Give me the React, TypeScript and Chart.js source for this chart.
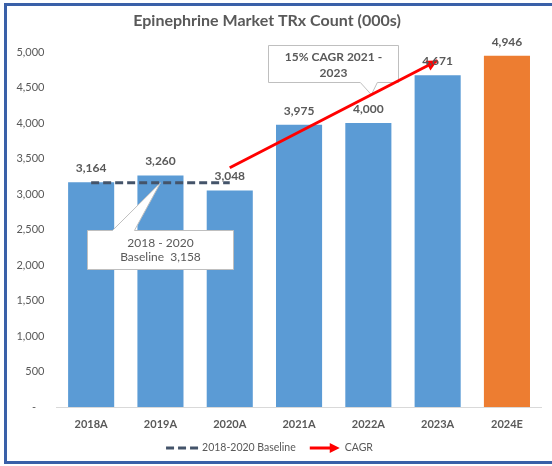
import React, { useEffect, useRef } from 'react';
import { Chart, registerables } from 'chart.js';

Chart.register(...registerables);

const FONT = 'Lato, "Open Sans", "DejaVu Sans", sans-serif';
const TEXT_COLOR = '#595959';

const titleText = 'Epinephrine Market TRx Count (000s)';
const categories = ['2018A', '2019A', '2020A', '2021A', '2022A', '2023A', '2024E'];
const trxValues = [3164, 3260, 3048, 3975, 4000, 4671, 4946];
const barColors = ['#5B9BD5', '#5B9BD5', '#5B9BD5', '#5B9BD5', '#5B9BD5', '#5B9BD5', '#ED7D31'];
const baselineValues: (number | null)[] = [3158, 3158, 3158, null, null, null, null];
const cagrValues: (number | null)[] = [null, null, 3370, null, null, 4880, null];
const yMin = 0;
const yMax = 5000;
const yStep = 500;
const baselineLabel = '2018-2020 Baseline';
const cagrLabel = 'CAGR';
const baselineCalloutLines = ['2018 - 2020', 'Baseline  3,158'];
const cagrCalloutLines = ['15% CAGR 2021 -', '2023'];

const BASELINE_COLOR = '#44546A';
const CAGR_COLOR = '#FF0000';

function fmt(v: number) {
  return v.toLocaleString('en-US');
}

function drawCallout(
  ctx: CanvasRenderingContext2D,
  left: number, top: number, right: number, bottom: number,
  b1: number, b2: number, tipX: number, tipY: number, side: 'top' | 'bottom'
) {
  ctx.save();
  ctx.beginPath();
  if (side === 'top') {
    ctx.moveTo(left, top);
    ctx.lineTo(b1, top);
    ctx.lineTo(tipX, tipY);
    ctx.lineTo(b2, top);
    ctx.lineTo(right, top);
    ctx.lineTo(right, bottom);
    ctx.lineTo(left, bottom);
  } else {
    ctx.moveTo(left, top);
    ctx.lineTo(right, top);
    ctx.lineTo(right, bottom);
    ctx.lineTo(b2, bottom);
    ctx.lineTo(tipX, tipY);
    ctx.lineTo(b1, bottom);
    ctx.lineTo(left, bottom);
  }
  ctx.closePath();
  ctx.fillStyle = '#FFFFFF';
  ctx.fill();
  ctx.strokeStyle = '#BFBFBF';
  ctx.lineWidth = 1;
  ctx.stroke();
  ctx.restore();
}

function drawArrowHead(ctx: CanvasRenderingContext2D, x0: number, y0: number, x1: number, y1: number, len: number, half: number, color: string) {
  const ang = Math.atan2(y1 - y0, x1 - x0);
  const cos = Math.cos(ang);
  const sin = Math.sin(ang);
  const bx = x1 - len * cos;
  const by = y1 - len * sin;
  ctx.save();
  ctx.beginPath();
  ctx.moveTo(x1, y1);
  ctx.lineTo(bx + half * sin, by - half * cos);
  ctx.lineTo(bx - half * sin, by + half * cos);
  ctx.closePath();
  ctx.fillStyle = color;
  ctx.fill();
  ctx.restore();
}

const BAR_INDEX = 2;
const CAGR_INDEX = 1;

const overlayPlugin = {
  id: 'overlayPlugin',
  afterDatasetDraw(chart: any, args: any) {
    const ctx: CanvasRenderingContext2D = chart.ctx;
    const x = chart.scales.x;
    const y = chart.scales.y;
    if (args.index === BAR_INDEX) {
      const tX = x.getPixelForValue(1);
      const tY = y.getPixelForValue(3158);
      const left = Math.round(tX - 73) + 0.5;
      const right = Math.round(tX + 73) + 0.5;
      const top = Math.round(tY + 47) + 0.5;
      const bottom = Math.round(tY + 86) + 0.5;
      drawCallout(ctx, left, top, right, bottom, tX - 48, tX - 26, tX, tY, 'top');
      ctx.save();
      ctx.font = `12px ${FONT}`;
      ctx.fillStyle = TEXT_COLOR;
      ctx.textAlign = 'center';
      ctx.textBaseline = 'middle';
      const cx = (left + right) / 2;
      ctx.fillText(baselineCalloutLines[0], cx, top + 13);
      ctx.fillText(baselineCalloutLines[1], cx, top + 27);
      ctx.restore();

      const c0x = x.getPixelForValue(2);
      const c0y = y.getPixelForValue(cagrValues[2] as number);
      const c1x = x.getPixelForValue(5);
      const c1y = y.getPixelForValue(cagrValues[5] as number);
      const qx = x.getPixelForValue(4) + 3;
      const qy = c0y + (c1y - c0y) * (qx - c0x) / (c1x - c0x);
      const cl = Math.round(x.getPixelForValue(4) - 100) + 0.5;
      const cr = Math.round(x.getPixelForValue(4) + 30) + 0.5;
      const ct = Math.round(chart.chartArea.top - 7) + 0.5;
      const cb = Math.round(qy - 13) + 0.5;
      drawCallout(ctx, cl, ct, cr, cb, qx - 11, qx + 6, qx, qy, 'bottom');
      ctx.save();
      ctx.font = `bold 12px ${FONT}`;
      ctx.fillStyle = TEXT_COLOR;
      ctx.textAlign = 'center';
      ctx.textBaseline = 'middle';
      const ccx = (cl + cr) / 2;
      ctx.fillText(cagrCalloutLines[0], ccx, ct + 12);
      ctx.fillText(cagrCalloutLines[1], ccx, ct + 28);
      ctx.restore();
    }
    if (args.index === CAGR_INDEX) {
      const meta = chart.getDatasetMeta(CAGR_INDEX);
      const p0 = meta.data[2];
      const p1 = meta.data[5];
      drawArrowHead(ctx, p0.x, p0.y, p1.x, p1.y, 11, 5.5, CAGR_COLOR);
    }
  },
  afterDatasetsDraw(chart: any) {
    const ctx: CanvasRenderingContext2D = chart.ctx;
    const meta = chart.getDatasetMeta(BAR_INDEX);
    ctx.save();
    ctx.font = `bold 12px ${FONT}`;
    ctx.fillStyle = TEXT_COLOR;
    ctx.textAlign = 'center';
    ctx.textBaseline = 'middle';
    meta.data.forEach((el: any, i: number) => {
      ctx.fillText(fmt(trxValues[i]), el.x, el.y - 14);
    });
    ctx.restore();
  },
  afterDraw(chart: any) {
    const ctx: CanvasRenderingContext2D = chart.ctx;
    const centerX = 267;
    ctx.save();
    ctx.font = `bold 16px ${FONT}`;
    ctx.fillStyle = TEXT_COLOR;
    ctx.textAlign = 'center';
    ctx.textBaseline = 'middle';
    ctx.fillText(titleText, centerX, 21);
    ctx.restore();

    ctx.save();
    ctx.font = `10.5px ${FONT}`;
    const ly = 448;
    const s1 = 32, g1 = 4, gap = 14, s2 = 30, g2 = 5;
    const w1 = ctx.measureText(baselineLabel).width;
    const w2 = ctx.measureText(cagrLabel).width;
    const total = s1 + g1 + w1 + gap + s2 + g2 + w2;
    let lx = 170 + (centerX + 2.5 - 170 - total / 2);
    ctx.strokeStyle = BASELINE_COLOR;
    ctx.lineWidth = 3;
    ctx.setLineDash([8, 4]);
    ctx.beginPath();
    ctx.moveTo(lx, ly);
    ctx.lineTo(lx + s1, ly);
    ctx.stroke();
    ctx.setLineDash([]);
    ctx.fillStyle = TEXT_COLOR;
    ctx.textAlign = 'left';
    ctx.textBaseline = 'middle';
    ctx.fillText(baselineLabel, lx + s1 + g1, ly);
    lx += s1 + g1 + w1 + gap;
    ctx.strokeStyle = CAGR_COLOR;
    ctx.beginPath();
    ctx.moveTo(lx, ly);
    ctx.lineTo(lx + s2 - 8, ly);
    ctx.stroke();
    drawArrowHead(ctx, lx, ly, lx + s2, ly, 10, 5, CAGR_COLOR);
    ctx.fillStyle = TEXT_COLOR;
    ctx.fillText(cagrLabel, lx + s2 + g2, ly);
    ctx.restore();
  },
};

export default function App() {
  const ref = useRef<HTMLCanvasElement | null>(null);
  useEffect(() => {
    document.body.style.margin = '0';
    Chart.defaults.font.family = FONT;
    const canvas = ref.current;
    if (!canvas) return;
    const chart = new Chart(canvas, {
      type: 'bar',
      data: {
        labels: categories,
        datasets: [
          {
            type: 'line',
            label: baselineLabel,
            data: baselineValues,
            borderColor: BASELINE_COLOR,
            borderWidth: 3,
            borderDash: [8, 4],
            pointRadius: 0,
            fill: false,
            order: 1,
          } as any,
          {
            type: 'line',
            label: cagrLabel,
            data: cagrValues,
            borderColor: CAGR_COLOR,
            borderWidth: 3,
            pointRadius: 0,
            spanGaps: true,
            fill: false,
            order: 0,
          } as any,
          {
            type: 'bar',
            label: 'TRx',
            data: trxValues,
            backgroundColor: barColors,
            categoryPercentage: 1,
            barPercentage: 0.665,
            order: 2,
          } as any,
        ],
      },
      options: {
        responsive: false,
        animation: false,
        devicePixelRatio: 1,
        layout: { padding: { top: 52, right: 10.4, bottom: 0, left: 0 } },
        plugins: {
          legend: { display: false },
          title: { display: false },
          tooltip: { enabled: false },
        },
        scales: {
          x: {
            grid: { display: false, drawTicks: false },
            border: { display: true, color: '#D9D9D9', width: 1 },
            ticks: {
              color: TEXT_COLOR,
              font: { family: FONT, size: 11, weight: 'bold' },
              padding: 11,
              maxRotation: 0,
            },
            afterFit: (s: any) => { s.height = 59; },
          },
          y: {
            min: yMin,
            max: yMax,
            grid: { display: false, drawTicks: false },
            border: { display: false },
            ticks: {
              stepSize: yStep,
              color: TEXT_COLOR,
              font: { family: FONT, size: 11 },
              padding: 12,
              callback: (v: any) => (Number(v) === 0 ? '-   ' : fmt(Number(v))),
            },
            afterFit: (s: any) => { s.width = 56.5; },
          },
        },
      } as any,
      plugins: [overlayPlugin],
    });
    return () => chart.destroy();
  }, []);

  return (
    <div style={{ position: 'absolute', left: 0, top: 0, width: 552, height: 466, overflow: 'hidden', background: '#FFFFFF' }}>
      <div
        style={{
          position: 'absolute',
          left: 4,
          top: 3,
          width: 600,
          height: 455,
          borderLeft: '3px solid #3A60A8',
          borderTop: '3px solid #3A60A8',
          borderBottom: '3px solid #3A60A8',
        }}
      />
      <canvas ref={ref} width={552} height={466} style={{ position: 'absolute', left: 0, top: 0, width: 552, height: 466 }} />
    </div>
  );
}
